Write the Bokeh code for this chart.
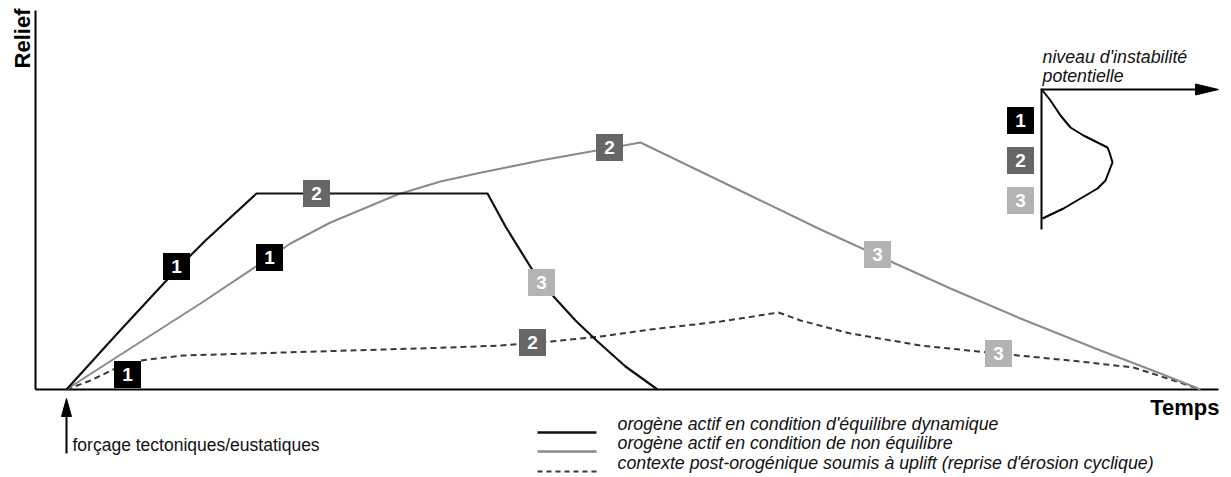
import math
from bokeh.plotting import figure
from bokeh.models import Range1d
from bokeh.core.properties import value
from bokeh.embed import file_html
from bokeh.resources import INLINE

# ---------------- data (time from forcing, relief above base level) ----------------
# orogène actif en condition d'équilibre dynamique
black_t = [0, 49, 99, 124, 139, 190, 421, 439, 465, 488, 509, 530, 559, 591]
black_r = [0, 54, 108, 134, 149, 196, 196, 163, 121, 92, 69, 49, 23, 0]
# orogène actif en condition de non équilibre
gray_t = [0, 34, 84, 134, 203, 224, 264, 331, 374, 415, 474, 530, 574, 634, 694, 754, 811, 884, 954, 1034, 1094, 1134]
gray_r = [0, 22, 54, 86, 132, 146, 167, 195, 208, 217, 229, 239, 247, 218, 189, 160, 134, 101, 71, 39, 16, 0]
# contexte post-orogénique soumis à uplift
dash_t = [0, 24, 49, 74, 99, 117, 217, 317, 384, 434, 484, 534, 584, 654, 712, 734, 784, 854, 931, 1004, 1067, 1101, 1134]
dash_r = [0, 9, 21, 29, 32, 34, 37, 40, 42, 44, 48, 53, 60, 68, 77, 69, 56, 44, 36, 29, 22, 11, 0]

phases = ["1", "2", "3"]
phase_colors = ["#000000", "#666666", "#b3b3b3"]
black_lab_t = [110, 250, 475]
black_lab_r = [123, 196, 107]
gray_lab_t = [203, 543, 811]
gray_lab_r = [132, 242, 135]
dash_lab_t = [61, 466, 932]
dash_lab_r = [15, 47, 36]

# inset: niveau d'instabilité potentielle
inset_t = [976, 984, 994, 1004, 1017, 1031, 1041, 1043, 1046, 1044, 1039, 1031, 1014, 997, 976]
inset_r = [299, 289, 274, 262, 254, 247, 242, 237, 227, 222, 209, 201, 191, 181, 171]
inset_lab_t = [954, 954, 954]
inset_lab_r = [269, 229, 189]

legend_labels = [
    "orogène actif en condition d'équilibre dynamique",
    "orogène actif en condition de non équilibre",
    "contexte post-orogénique soumis à uplift (reprise d'érosion cyclique)",
]
axis_x_label = "Temps"
axis_y_label = "Relief"
forcing_label = "forçage tectoniques/eustatiques"
inset_title = ["niveau d'instabilité", "potentielle"]

# ---------------- layout helpers (pixel -> data) ----------------
X0, Y0 = 66, 389
W, H = 1231, 477
TB = 7  # baseline compensation (px)
def tx(px):
    return px - X0
def ry(py):
    return Y0 - py

FONT = value("Liberation Sans")
BLACK = "#111111"
GRAY = "#8a8a8a"
DASH = "#383838"

p = figure(width=W, height=H, output_backend="svg", toolbar_location=None,
           x_range=Range1d(0 - X0, W - X0), y_range=Range1d(Y0 - H, Y0),
           x_axis_type=None, y_axis_type=None, min_border=0)
p.outline_line_color = None
p.xgrid.visible = False
p.ygrid.visible = False
p.background_fill_color = "white"
p.border_fill_color = "white"

# axes
p.segment(x0=[tx(35), tx(35)], y0=[ry(10), ry(389)], x1=[tx(35), tx(1218)], y1=[ry(389), ry(389)],
          line_color="#000000", line_width=2)

# curves
p.line(dash_t, dash_r, line_color=DASH, line_width=2, line_dash="6 4")
p.line(gray_t, gray_r, line_color=GRAY, line_width=2)
p.line(black_t, black_r, line_color=BLACK, line_width=2.2)

# phase boxes
def boxes(ts, rs):
    p.rect(ts, rs, width=27, height=27, width_units="screen", height_units="screen",
           fill_color=phase_colors, line_color=None)
    p.text(ts, rs, text=phases, text_color="white", text_font=FONT, text_font_style="bold",
           text_font_size="19px", text_align="center", text_baseline="alphabetic", y_offset=0)

boxes(black_lab_t, black_lab_r)
boxes(gray_lab_t, gray_lab_r)
boxes(dash_lab_t, dash_lab_r)

# inset
p.segment(x0=[tx(1041)], y0=[ry(88)], x1=[tx(1041)], y1=[ry(229)], line_color="#000000", line_width=2)
p.segment(x0=[tx(1041)], y0=[ry(89)], x1=[tx(1198)], y1=[ry(89)], line_color="#000000", line_width=2)
p.patch([tx(1195), tx(1218), tx(1195)], [ry(83.5), ry(89), ry(94.5)], fill_color="#000000", line_color="#000000")
p.line(inset_t, inset_r, line_color="#000000", line_width=2)
boxes(inset_lab_t, inset_lab_r)
p.text([tx(1042), tx(1042)], [ry(63 - TB), ry(82 - TB)], text=inset_title, text_font=FONT,
       text_font_style="italic", text_font_size="17.8px", text_align="left",
       text_baseline="alphabetic", text_color="#111111")

# axis labels
p.text([tx(29 - TB)], [ry(38)], text=[axis_y_label], angle=math.pi / 2, text_font=FONT,
       text_font_style="bold", text_font_size="22px", text_align="center",
       text_baseline="alphabetic", text_color="#000000")
p.text([tx(1219)], [ry(414 - TB)], text=[axis_x_label], text_font=FONT, text_font_style="bold",
       text_font_size="22px", text_align="right", text_baseline="alphabetic", text_color="#000000")

# forcing arrow
p.segment(x0=[tx(66)], y0=[ry(453)], x1=[tx(66)], y1=[ry(412)], line_color="#000000", line_width=2)
p.patch([tx(61), tx(66), tx(71)], [ry(416), ry(398), ry(416)], fill_color="#000000", line_color="#000000")
p.text([tx(72)], [ry(451 - TB)], text=[forcing_label], text_font=FONT, text_font_size="17.5px",
       text_align="left", text_baseline="alphabetic", text_color="#111111")

# legend
leg_y = [432, 451, 471]
leg_base = [430, 449, 469]
p.segment(x0=[tx(537)], y0=[ry(leg_y[0])], x1=[tx(596)], y1=[ry(leg_y[0])], line_color=BLACK, line_width=2.5)
p.segment(x0=[tx(537)], y0=[ry(leg_y[1])], x1=[tx(596)], y1=[ry(leg_y[1])], line_color=GRAY, line_width=2.5)
p.segment(x0=[tx(537)], y0=[ry(leg_y[2])], x1=[tx(596)], y1=[ry(leg_y[2])], line_color=DASH, line_width=2,
          line_dash="5 4")
p.text([tx(617)] * 3, [ry(b - TB) for b in leg_base], text=legend_labels, text_font=FONT,
       text_font_style="italic", text_font_size="17.8px", text_align="left",
       text_baseline="alphabetic", text_color="#111111")

open("out.html", "w").write(file_html(p, INLINE))
